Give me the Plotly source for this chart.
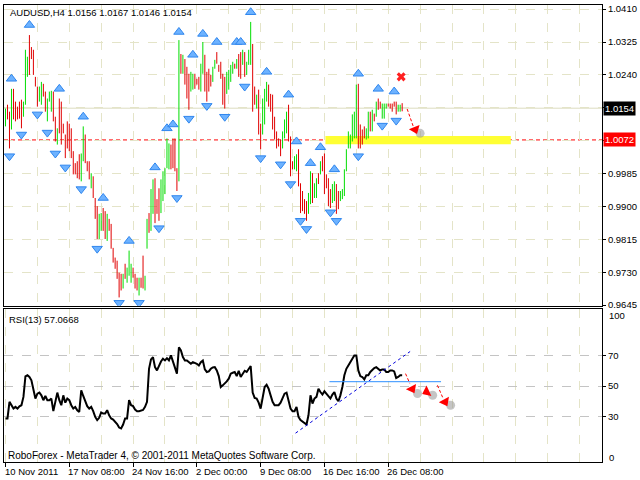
import plotly.graph_objects as go

# ---------------- data ----------------
high = [1.0153, 1.0163, 1.0145, 1.0204, 1.0204, 1.0171, 1.0158, 1.0171, 1.0176, 1.0171,
        1.0305, 1.0287, 1.0343, 1.0312, 1.0305, 1.0235, 1.0210, 1.0210, 1.0222, 1.0217,
        1.0197, 1.0179, 1.0197, 1.0199, 1.0197, 1.0132, 1.0102, 1.0179, 1.0171, 1.0114,
        1.0086, 1.0120, 1.0114, 1.0102, 1.0043, 1.0012, 1.0017, 1.0035, 1.0037, 1.0107,
        1.0086, 1.0017, 1.0017, 0.9986, 0.9978, 0.9922, 0.9901, 0.9881, 0.9883, 0.9896,
        0.9888, 0.9881, 0.9868, 0.9855, 0.9793, 0.9768, 0.9760, 0.9729, 0.9726, 0.9726,
        0.9752, 0.9742, 0.9786, 0.9752, 0.9742, 0.9726, 0.9716, 0.9716, 0.9716, 0.9773,
        0.9721, 0.9868, 0.9883, 0.9945, 0.9970, 0.9973, 0.9919, 0.9947, 0.9970, 0.9991,
        0.9999, 1.0076, 1.0063, 1.0060, 1.0076, 1.0076, 0.9999, 1.0330, 1.0294, 1.0292,
        1.0281, 1.0261, 1.0243, 1.0248, 1.0243, 1.0243, 1.0230, 1.0235, 1.0269, 1.0325,
        1.0292, 1.0248, 1.0256, 1.0240, 1.0261, 1.0279, 1.0299, 1.0266, 1.0274, 1.0243,
        1.0235, 1.0248, 1.0253, 1.0266, 1.0274, 1.0269, 1.0281, 1.0294, 1.0299, 1.0305,
        1.0299, 1.0274, 1.0305, 1.0377, 1.0320, 1.0210, 1.0189, 1.0202, 1.0114, 1.0179,
        1.0204, 1.0222, 1.0215, 1.0191, 1.0189, 1.0132, 1.0094, 1.0076, 1.0073, 1.0094,
        1.0125, 1.0145, 1.0163, 1.0081, 1.0017, 1.0030, 1.0035, 1.0048, 0.9960, 0.9940,
        0.9919, 0.9914, 0.9935, 0.9991, 0.9986, 0.9960, 0.9973, 0.9986, 1.0017, 1.0030,
        1.0037, 0.9983, 0.9973, 0.9945, 0.9958, 0.9965, 0.9958, 0.9940, 0.9940, 0.9945,
        0.9996, 1.0048, 1.0094, 1.0086, 1.0138, 1.0145, 1.0215, 1.0217, 1.0112, 1.0099,
        1.0107, 1.0102, 1.0145, 1.0145, 1.0150, 1.0140, 1.0171, 1.0179, 1.0171, 1.0166,
        1.0166, 1.0166, 1.0166, 1.0166, 1.0166, 1.0171, 1.0171, 1.0163, 1.0163, 1.0167]

low = [1.0107, 1.0125, 1.0050, 1.0099, 1.0125, 1.0120, 1.0125, 1.0127, 1.0102, 1.0132,
       1.0163, 1.0235, 1.0240, 1.0281, 1.0240, 1.0210, 1.0158, 1.0171, 1.0163, 1.0184,
       1.0145, 1.0120, 1.0171, 1.0145, 1.0120, 1.0068, 1.0060, 1.0089, 1.0060, 1.0089,
       1.0025, 1.0050, 1.0043, 1.0025, 0.9983, 0.9983, 0.9973, 0.9970, 0.9965, 1.0017,
       1.0012, 0.9991, 0.9970, 0.9947, 0.9922, 0.9868, 0.9816, 0.9816, 0.9837, 0.9837,
       0.9816, 0.9811, 0.9837, 0.9791, 0.9755, 0.9739, 0.9713, 0.9665, 0.9683, 0.9688,
       0.9713, 0.9703, 0.9721, 0.9703, 0.9716, 0.9688, 0.9683, 0.9670, 0.9690, 0.9688,
       0.9683, 0.9791, 0.9832, 0.9837, 0.9881, 0.9857, 0.9881, 0.9863, 0.9883, 0.9914,
       0.9932, 0.9999, 0.9996, 0.9996, 0.9999, 0.9991, 0.9940, 0.9965, 1.0243, 1.0243,
       1.0215, 1.0179, 1.0150, 1.0197, 1.0202, 1.0204, 1.0215, 1.0202, 1.0197, 1.0243,
       1.0197, 1.0171, 1.0197, 1.0210, 1.0222, 1.0256, 1.0269, 1.0248, 1.0230, 1.0163,
       1.0153, 1.0191, 1.0202, 1.0222, 1.0243, 1.0256, 1.0256, 1.0235, 1.0230, 1.0266,
       1.0235, 1.0240, 1.0266, 1.0266, 1.0145, 1.0163, 1.0153, 1.0086, 1.0048, 1.0086,
       1.0112, 1.0171, 1.0158, 1.0145, 1.0099, 1.0073, 1.0050, 1.0055, 1.0030, 1.0050,
       1.0076, 1.0089, 1.0068, 0.9978, 0.9996, 0.9996, 0.9991, 0.9952, 0.9883, 0.9888,
       0.9881, 0.9863, 0.9881, 0.9906, 0.9909, 0.9922, 0.9922, 0.9958, 0.9983, 0.9991,
       0.9932, 0.9947, 0.9901, 0.9896, 0.9909, 0.9914, 0.9881, 0.9893, 0.9914, 0.9919,
       0.9927, 0.9991, 1.0050, 1.0050, 1.0068, 1.0076, 1.0076, 1.0050, 1.0050, 1.0060,
       1.0076, 1.0073, 1.0076, 1.0094, 1.0094, 1.0120, 1.0132, 1.0150, 1.0153, 1.0127,
       1.0127, 1.0153, 1.0158, 1.0153, 1.0145, 1.0158, 1.0138, 1.0145, 1.0145, 1.0146]

# G = bullish bar, R = bearish bar
bar_dir = list("GRRGRRRRRG" "GGRRRRRGGR" "RGGGRRGRRR" "RRRRRRRRGG" "RRRGRRRGGR"
               "RGRRRRRRRG" "RGGGRRRGRR" "GGRGGRRRGG" "GGGRRRRGRG" "RRRGGRRRGG"
               "RRRRGGRRRR" "RGGGGRGRRG" "RGGGRRGRRG" "GGRRRRRRRG" "GGRRRGGRRR"
               "RRGGRGGRGR" "RRRRGGRRGG" "GGGGGGGRRR" "RGGRGRGRRG" "GGRRRRRGGR")

rsi = [28.7, 28.7, 39.6, 37.4, 35.2, 36.3, 35.2, 36.7, 37.4, 42.9,
       56.4, 57.1, 56.0, 53.8, 47.2, 41.8, 45.0, 45.7, 43.9, 40.7,
       43.5, 40.7, 40.7, 41.8, 33.5, 39.6, 45.7, 40.7, 37.4, 43.9,
       39.1, 41.8, 40.7, 37.4, 35.2, 36.3, 34.1, 33.0, 47.2, 43.5,
       39.6, 36.8, 35.2, 36.3, 33.5, 29.7, 27.6, 29.1, 32.6, 31.9,
       31.9, 34.1, 30.8, 28.7, 28.0, 26.5, 25.0, 22.7, 22.1, 24.7,
       28.7, 28.7, 40.7, 37.4, 36.8, 34.6, 33.5, 33.5, 33.9, 34.3,
       36.3, 39.6, 61.4, 67.6, 69.1, 62.5, 60.3, 63.6, 66.2, 68.0,
       66.9, 68.4, 66.9, 70.2, 66.2, 63.6, 58.2, 75.6, 73.5, 69.1,
       66.9, 66.9, 65.8, 64.7, 65.8, 65.4, 64.7, 63.6, 65.8, 66.9,
       61.0, 59.3, 59.7, 61.4, 62.3, 62.5, 60.3, 56.6, 49.4, 50.5,
       51.6, 53.1, 54.9, 58.2, 58.8, 59.3, 56.6, 60.1, 56.0, 58.2,
       60.1, 59.3, 61.4, 63.2, 45.7, 42.2, 41.8, 39.1, 35.2, 43.9,
       49.4, 50.9, 48.3, 43.9, 39.6, 37.4, 37.4, 37.4, 39.1, 42.2,
       45.0, 45.7, 39.6, 35.2, 33.5, 33.5, 36.3, 29.7, 27.6, 26.5,
       25.4, 24.7, 30.8, 43.9, 38.5, 41.8, 42.9, 48.3, 46.1, 44.4,
       46.6, 45.0, 42.9, 41.8, 44.4, 46.1, 41.8, 40.0, 43.9, 49.4,
       57.1, 61.4, 63.6, 65.4, 68.0, 70.2, 70.2, 60.3, 56.6, 56.0,
       54.4, 57.1, 57.1, 59.3, 61.0, 61.9, 62.5, 61.4, 60.3, 61.0,
       61.0, 59.3, 59.3, 60.3, 60.3, 59.7, 55.3, 56.0, 57.1, 57.0668]

frac_up_idx = [3, 12, 27, 39, 49, 62, 75, 81, 84, 87, 94, 99, 106, 116, 118, 123,
               131, 142, 146, 153, 158, 165, 177, 187, 195]
frac_up_price = [1.0230, 1.0369, 1.0204, 1.0132, 0.9922, 0.9811, 1.0001, 1.0102, 1.0112,
                 1.0351, 1.0292, 1.0346, 1.0325, 1.0325, 1.0325, 1.0402, 1.0248, 1.0189,
                 1.0068, 1.0012, 1.0053, 0.9996, 1.0243, 1.0204, 1.0197]
frac_dn_idx = [2, 8, 16, 21, 25, 30, 38, 46, 57, 67, 77, 86, 92, 101, 110, 120, 128,
               138, 143, 148, 151, 163, 166, 177, 189, 196]
frac_dn_price = [1.0030, 1.0086, 1.0138, 1.0091, 1.0037, 1.0001, 0.9945, 0.9791, 0.9651,
                 0.9651, 0.9844, 0.9922, 1.0127, 1.0160, 1.0132, 1.0210, 1.0025, 1.0009,
                 0.9958, 0.9863, 0.9842, 0.9885, 0.9863, 1.0030, 1.0109, 1.0122]

price_ticks = [1.0410, 1.0325, 1.0240, 1.0155, 1.0070, 0.9985, 0.9900, 0.9815, 0.9730, 0.9645]
price_ticktext = ["1.0410", "1.0325", "1.0240", "", "", "0.9985", "0.9900", "0.9815", "0.9730", "0.9645"]
bid_price = 1.0154
level_price = 1.0072
zone_low, zone_high = 1.0061, 1.0082
zone_start, zone_end = 160.5, 253.5
rsi_levels = [30, 50, 70]
date_labels = ["10 Nov 2011", "17 Nov 08:00", "24 Nov 16:00", "2 Dec 00:00",
               "9 Dec 08:00", "16 Dec 16:00", "26 Dec 08:00"]
date_label_idx = [0, 32, 64, 96, 128, 160, 192]
title_text = "AUDUSD,H4 1.0156 1.0167 1.0146 1.0154"
rsi_text = "RSI(13) 57.0668"
credit_text = "RoboForex - MetaTrader 4, \u00a9 2001-2011 MetaQuotes Software Corp."

# annotation objects drawn on the chart
x_mark = (198.5, 1.0235)
price_arrow = [(201.5, 1.0152), (204.5, 1.0108)]
price_head = (205.5, 1.0099)
price_blob = (208.0, 1.0089)
rsi_trend = [(145.5, 19.0), (203.0, 72.8)]
rsi_hline = [(162.5, 52.9), (218.5, 52.9)]
rsi_arrow_lines = [[(200.7, 58.2), (202.8, 51.8)], [(216.7, 50.5), (219.5, 42.0)]]
rsi_heads_x = [204.0, 211.3, 220.5]
rsi_heads_y = [48.2, 46.2, 39.7]
rsi_heads_sym = ["triangle-down", "triangle-left", "triangle-down"]
rsi_heads_ang = [-28, -25, -28]
rsi_blobs_x = [206.7, 214.3, 223.3]
rsi_blobs_y = [45.1, 44.0, 37.4]

FONT = "Liberation Sans"
GRID = "#e4e4c8"
N = len(high)

# ---------------- figure ----------------
fig = go.Figure()

gx, gy, rx, ry = [], [], [], []
for i in range(N):
    if bar_dir[i] == "G":
        gx += [i, i, None]
        gy += [low[i], high[i], None]
    else:
        rx += [i, i, None]
        ry += [low[i], high[i], None]

fig.add_trace(go.Scatter(x=gx, y=gy, mode="lines", line=dict(color="#00dd00", width=1),
                         xaxis="x", yaxis="y", hoverinfo="skip"))
fig.add_trace(go.Scatter(x=rx, y=ry, mode="lines", line=dict(color="#e00000", width=1),
                         xaxis="x", yaxis="y", hoverinfo="skip"))

fig.add_trace(go.Scatter(x=frac_up_idx, y=frac_up_price, mode="markers",
                         marker=dict(symbol="triangle-up", size=9, color="#6db2ff",
                                     line=dict(color="#2f86ee", width=1)),
                         xaxis="x", yaxis="y", hoverinfo="skip"))
fig.add_trace(go.Scatter(x=frac_dn_idx, y=frac_dn_price, mode="markers",
                         marker=dict(symbol="triangle-down", size=9, color="#6db2ff",
                                     line=dict(color="#2f86ee", width=1)),
                         xaxis="x", yaxis="y", hoverinfo="skip"))

# red X mark, arrow head and shadow blob on price panel
fig.add_trace(go.Scatter(x=[price_blob[0]], y=[price_blob[1]], mode="markers",
                         marker=dict(symbol="circle", size=9, color="rgba(150,150,150,0.55)"),
                         xaxis="x", yaxis="y", hoverinfo="skip"))
fig.add_trace(go.Scatter(x=[price_head[0]], y=[price_head[1]], mode="markers",
                         marker=dict(symbol="triangle-down", size=10, color="#ff0000", angle=-22),
                         xaxis="x", yaxis="y", hoverinfo="skip"))
fig.add_trace(go.Scatter(x=[x_mark[0]], y=[x_mark[1]], mode="markers",
                         marker=dict(symbol="x", size=8, color="#ff2020"),
                         xaxis="x", yaxis="y", hoverinfo="skip"))

# RSI
fig.add_trace(go.Scatter(x=list(range(N)), y=rsi, mode="lines",
                         line=dict(color="black", width=2),
                         xaxis="x2", yaxis="y2", hoverinfo="skip"))
fig.add_trace(go.Scatter(x=rsi_blobs_x, y=rsi_blobs_y, mode="markers",
                         marker=dict(symbol="circle", size=9, color="rgba(150,150,150,0.55)"),
                         xaxis="x2", yaxis="y2", hoverinfo="skip"))
fig.add_trace(go.Scatter(x=rsi_heads_x, y=rsi_heads_y, mode="markers",
                         marker=dict(symbol=rsi_heads_sym, size=10, color="#ff0000",
                                     angle=rsi_heads_ang),
                         xaxis="x2", yaxis="y2", hoverinfo="skip"))

shapes = []
shapes.append(dict(type="line", xref="paper", yref="y", x0=0, x1=1, y0=bid_price, y1=bid_price,
                   line=dict(color="#dcdcc0", width=1), layer="between"))
shapes.append(dict(type="rect", xref="x", yref="y", x0=zone_start, x1=zone_end,
                   y0=zone_low, y1=zone_high, fillcolor="#ffff33", line=dict(width=0),
                   layer="between"))
shapes.append(dict(type="line", xref="paper", yref="y", x0=0, x1=1, y0=level_price, y1=level_price,
                   line=dict(color="#ff0000", width=1, dash="4px,3px"), layer="between"))
shapes.append(dict(type="line", xref="x", yref="y", x0=price_arrow[0][0], y0=price_arrow[0][1],
                   x1=price_arrow[1][0], y1=price_arrow[1][1],
                   line=dict(color="#ff0000", width=1, dash="3px,2px")))
shapes.append(dict(type="line", xref="x2", yref="y2", x0=rsi_trend[0][0], y0=rsi_trend[0][1],
                   x1=rsi_trend[1][0], y1=rsi_trend[1][1],
                   line=dict(color="#0000dd", width=1, dash="3px,3px")))
shapes.append(dict(type="line", xref="x2", yref="y2", x0=rsi_hline[0][0], y0=rsi_hline[0][1],
                   x1=rsi_hline[1][0], y1=rsi_hline[1][1],
                   line=dict(color="#2e8fff", width=1)))
for seg in rsi_arrow_lines:
    shapes.append(dict(type="line", xref="x2", yref="y2", x0=seg[0][0], y0=seg[0][1],
                       x1=seg[1][0], y1=seg[1][1],
                       line=dict(color="#ff0000", width=1, dash="3px,2px")))

annotations = []
annotations.append(dict(text=title_text, xref="paper", yref="paper", x=0.006, y=0.9826,
                        xanchor="left", yanchor="middle", showarrow=False,
                        font=dict(family=FONT, size=9.5, color="black")))
annotations.append(dict(text=rsi_text, xref="paper", yref="paper", x=0.005, y=0.3115,
                        xanchor="left", yanchor="middle", showarrow=False,
                        font=dict(family=FONT, size=9.5, color="black")))
annotations.append(dict(text=credit_text, xref="paper", yref="paper", x=0.003, y=0.0153,
                        xanchor="left", yanchor="middle", showarrow=False,
                        font=dict(family=FONT, size=10, color="black")))
annotations.append(dict(text="1.0154", xref="paper", yref="y", x=1.0017, y=bid_price,
                        xanchor="left", yanchor="middle", showarrow=False, bgcolor="black",
                        borderpad=1, font=dict(family=FONT, size=9.5, color="white")))
annotations.append(dict(text="1.0072", xref="paper", yref="y", x=1.0017, y=level_price,
                        xanchor="left", yanchor="middle", showarrow=False, bgcolor="#ff0000",
                        borderpad=1, font=dict(family=FONT, size=9.5, color="white")))
annotations.append(dict(text="100", xref="paper", yref="paper", x=1.0083, y=0.3203,
                        xanchor="left", yanchor="middle", showarrow=False,
                        font=dict(family=FONT, size=9.5, color="black")))
annotations.append(dict(text="0", xref="paper", yref="paper", x=1.0083, y=0.0109,
                        xanchor="left", yanchor="middle", showarrow=False,
                        font=dict(family=FONT, size=9.5, color="black")))
for lab, idx in zip(date_labels, date_label_idx):
    annotations.append(dict(text=lab, xref="x2", yref="paper", x=idx, y=-0.0218,
                            xshift=-3, xanchor="left", yanchor="middle", showarrow=False,
                            font=dict(family=FONT, size=9.5, color="black")))

grid_idx = [16 * k for k in range(1, 19)]
minor_idx = [v for v in grid_idx if v not in date_label_idx]
xrange_ = [-0.75, 299.25]

fig.update_layout(
    width=640, height=480,
    margin=dict(l=3, r=37, t=3, b=18),
    paper_bgcolor="white", plot_bgcolor="white",
    showlegend=False,
    shapes=shapes, annotations=annotations,
    xaxis=dict(domain=[0, 1], range=xrange_, anchor="y", tickmode="array", tickvals=grid_idx,
               showticklabels=False, ticks="", showgrid=True, gridcolor=GRID, griddash="dash",
               gridwidth=1, showline=True, mirror=True, linecolor="black", linewidth=1,
               zeroline=False, fixedrange=True),
    yaxis=dict(domain=[0.342, 1.0], range=[0.96436, 1.04207], anchor="x", side="right",
               tickmode="array", tickvals=price_ticks, ticktext=price_ticktext,
               ticks="outside", ticklen=3, tickcolor="black", ticklabeloverflow="allow",
               tickfont=dict(family=FONT, size=9.5, color="black"),
               showgrid=True, gridcolor=GRID, griddash="dash", gridwidth=1,
               showline=True, mirror=True, linecolor="black", linewidth=1, zeroline=False),
    xaxis2=dict(domain=[0, 1], range=xrange_, anchor="y2", tickmode="array",
                tickvals=date_label_idx, showticklabels=False, ticks="outside", ticklen=4,
                tickcolor="black", showgrid=True, gridcolor=GRID, griddash="dash", gridwidth=1,
                minor=dict(tickmode="array", tickvals=minor_idx, showgrid=True, gridcolor=GRID,
                           griddash="dash", ticks=""),
                showline=True, mirror=True, linecolor="black", linewidth=1, zeroline=False),
    yaxis2=dict(domain=[0, 0.3355], range=[0, 101], anchor="x2", side="right",
                tickmode="array", tickvals=rsi_levels, ticktext=[str(v) for v in rsi_levels],
                ticks="outside", ticklen=3, tickcolor="black", ticklabeloverflow="allow",
                tickfont=dict(family=FONT, size=9.5, color="black"),
                showgrid=True, gridcolor="#c4c4c4", griddash="dash", gridwidth=1,
                showline=True, mirror=True, linecolor="black", linewidth=1, zeroline=False),
)

fig.write_html("out.html", config={"displayModeBar": False},
               post_script="document.body.style.margin='0px';document.body.style.overflow='hidden';")
